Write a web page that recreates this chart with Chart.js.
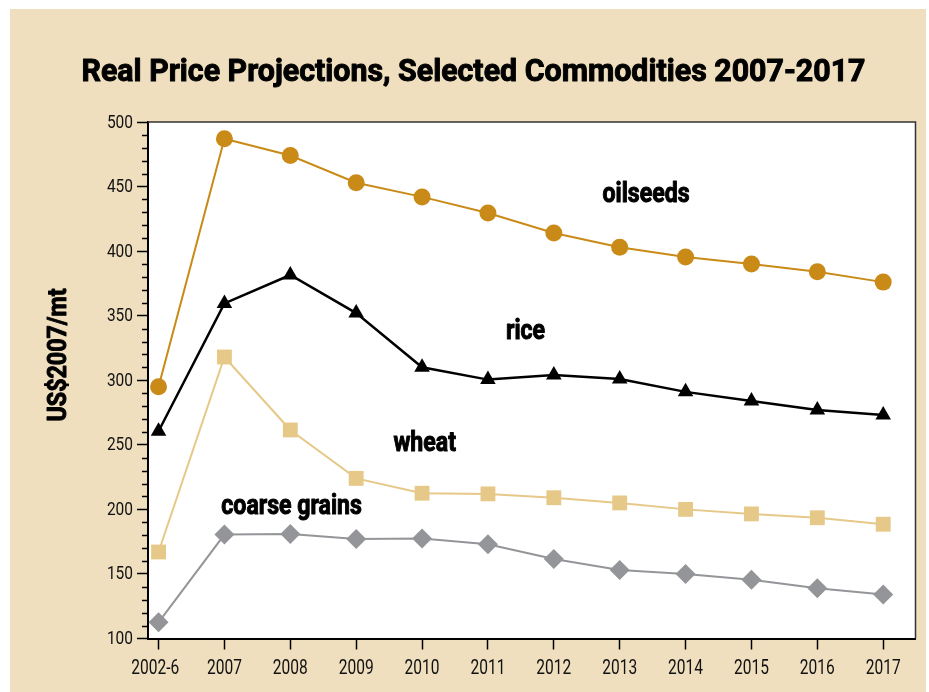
<!DOCTYPE html>
<html>
<head>
<meta charset="utf-8">
<title>Real Price Projections</title>
<script src="https://cdn.jsdelivr.net/npm/chart.js@4.4.1/dist/chart.umd.min.js"></script>
<style>
  html, body { margin: 0; padding: 0; background: #fff; }
  canvas { display: block; }
</style>
</head>
<body>
<canvas id="chart" width="929" height="692"></canvas>
<script>
// values (US$2007 per metric ton)
const years = ['2002-6', '2007', '2008', '2009', '2010', '2011', '2012', '2013', '2014', '2015', '2016', '2017'];
const oilseeds = [295, 487, 474, 453, 442, 429.5, 414, 403, 395.5, 390, 384, 376];
const rice = [260.5, 359.5, 381.5, 352, 310, 300.5, 304, 301, 291, 284, 277, 273];
const wheat = [167, 318, 261.5, 224, 212.5, 212, 209, 205, 200, 196.5, 193.5, 188.5];
const coarseGrains = [112.5, 180.5, 181, 177, 177.5, 173, 161.5, 153, 150, 145.5, 139, 134];

// series name labels, anchored in data units (x = year index, y = value at baseline)
const seriesLabels = [
    { text: 'oilseeds', x: 7.40, y: 438 },
    { text: 'rice', x: 5.57, y: 332 },
    { text: 'wheat', x: 4.04, y: 245.5 },
    { text: 'coarse grains', x: 2.02, y: 196.5 }
];

const TITLE = 'Real Price Projections, Selected Commodities 2007-2017';
const Y_TITLE = 'US$2007/mt';
const FONT = "Roboto, 'DejaVu Sans', sans-serif";
const BEIGE = '#efdfbf';

function toPoints(values) {
    return values.map((v, i) => ({ x: i, y: v }));
}

// the original uses a condensed face; squeeze the text horizontally
function squeezedText(ctx, text, x, y, sx, heavy) {
    ctx.save();
    ctx.translate(x, y);
    ctx.scale(sx, 1);
    ctx.fillText(text, 0, 0);
    if (heavy) {
        // a little extra weight, the source face is a black condensed
        ctx.lineWidth = heavy;
        ctx.strokeStyle = ctx.fillStyle;
        ctx.lineJoin = 'round';
        ctx.strokeText(text, 0, 0);
    }
    ctx.restore();
}

const decorPlugin = {
    id: 'decor',
    beforeDraw(chart) {
        const ctx = chart.ctx;
        const a = chart.chartArea;
        ctx.save();
        ctx.fillStyle = '#fff';
        ctx.fillRect(0, 0, chart.width, chart.height);
        ctx.fillStyle = BEIGE;
        ctx.fillRect(10, 9, 916, chart.height - 9);
        ctx.fillStyle = '#fff';
        ctx.fillRect(a.left, a.top, a.right - a.left, a.bottom - a.top);
        ctx.restore();
    },
    afterDraw(chart) {
        const ctx = chart.ctx;
        const a = chart.chartArea;
        const yScale = chart.scales.y;
        const xScale = chart.scales.x;
        ctx.save();

        // frame on top and right
        ctx.strokeStyle = '#333';
        ctx.lineWidth = 1.5;
        ctx.beginPath();
        ctx.moveTo(a.left, a.top);
        ctx.lineTo(a.right, a.top);
        ctx.lineTo(a.right, a.bottom);
        ctx.stroke();

        // minor ticks on the value axis
        ctx.strokeStyle = '#000';
        ctx.lineWidth = 1.5;
        for (let v = yScale.min; v <= yScale.max; v += 10) {
            if (v % 50 === 0) continue;
            const py = Math.round(yScale.getPixelForValue(v)) + 0.5;
            ctx.beginPath();
            ctx.moveTo(a.left - 6, py);
            ctx.lineTo(a.left, py);
            ctx.stroke();
        }

        ctx.fillStyle = '#111';

        // value axis labels
        ctx.font = '18px ' + FONT;
        ctx.textAlign = 'right';
        ctx.textBaseline = 'middle';
        yScale.ticks.forEach(t => {
            squeezedText(ctx, String(t.value), a.left - 15, yScale.getPixelForValue(t.value) + 1, 0.86);
        });

        // category labels
        ctx.font = '21px ' + FONT;
        ctx.textAlign = 'center';
        ctx.textBaseline = 'alphabetic';
        years.forEach((y, i) => {
            const px = i === 0 ? (a.left + xScale.getPixelForValue(0)) / 2 + 2 : xScale.getPixelForValue(i);
            squeezedText(ctx, y, px, a.bottom + 35, 0.74);
        });

        // series labels
        ctx.fillStyle = '#000';
        ctx.font = 'bold 27px ' + FONT;
        const labelSx = 87 / ctx.measureText('oilseeds').width;
        seriesLabels.forEach(l => {
            squeezedText(ctx, l.text, xScale.getPixelForValue(l.x), yScale.getPixelForValue(l.y), labelSx, 1);
        });

        // chart title
        ctx.font = 'bold 32px ' + FONT;
        squeezedText(ctx, TITLE, 473.5, 81, 784 / ctx.measureText(TITLE).width, 1);

        // value axis title
        ctx.font = 'bold 26px ' + FONT;
        const ySx = 133 / ctx.measureText(Y_TITLE).width;
        ctx.translate(66, 355);
        ctx.rotate(-Math.PI / 2);
        squeezedText(ctx, Y_TITLE, 0, 0, ySx, 1);
        ctx.restore();
    }
};

new Chart(document.getElementById('chart'), {
    type: 'line',
    data: {
        datasets: [
            {
                label: 'oilseeds',
                data: toPoints(oilseeds),
                borderColor: '#c98a17',
                backgroundColor: '#c98a17',
                borderWidth: 2,
                pointStyle: 'circle',
                pointRadius: 8.5,
                pointBorderWidth: 0,
                clip: false
            },
            {
                label: 'rice',
                data: toPoints(rice),
                borderColor: '#000',
                backgroundColor: '#000',
                borderWidth: 2.5,
                pointStyle: 'triangle',
                pointRadius: 9,
                pointBorderWidth: 0,
                clip: false
            },
            {
                label: 'wheat',
                data: toPoints(wheat),
                borderColor: '#e6c888',
                backgroundColor: '#e6c888',
                borderWidth: 2,
                pointStyle: 'rect',
                pointRadius: 10.5,
                pointBorderWidth: 0,
                clip: false
            },
            {
                label: 'coarse grains',
                data: toPoints(coarseGrains),
                borderColor: '#939598',
                backgroundColor: '#939598',
                borderWidth: 2,
                pointStyle: 'rectRot',
                pointRadius: 10,
                pointBorderWidth: 0,
                clip: false
            }
        ]
    },
    options: {
        responsive: false,
        animation: false,
        layout: { padding: { top: 122, left: 0, right: 13.5, bottom: 0 } },
        plugins: {
            legend: { display: false },
            title: { display: false },
            tooltip: { enabled: false }
        },
        elements: { line: { tension: 0 } },
        scales: {
            x: {
                type: 'linear',
                min: -0.16,
                max: 11.49,
                afterBuildTicks: scale => {
                    scale.ticks = years.map((_, i) => ({ value: i }));
                },
                afterFit: scale => { scale.height = 53.5; },
                grid: { drawOnChartArea: false, tickLength: 11, tickColor: '#000', tickWidth: 1.5 },
                border: { display: true, color: '#000', width: 2 },
                ticks: { display: false }
            },
            y: {
                min: 100,
                max: 500,
                afterFit: scale => { scale.width = 148; },
                grid: { drawOnChartArea: false, tickLength: 11, tickColor: '#000', tickWidth: 1.5 },
                border: { display: true, color: '#000', width: 2 },
                ticks: { display: false, stepSize: 50 }
            }
        }
    },
    plugins: [decorPlugin]
});
</script>
</body>
</html>
